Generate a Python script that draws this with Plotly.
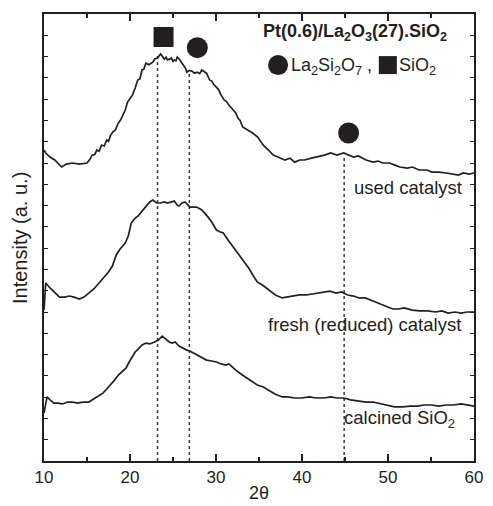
import plotly.graph_objects as go

# ---- data (2theta in degrees, intensity in a.u.) ----
theta_used = [10.0, 10.2, 10.7, 11.25, 12.05, 12.6, 13.3, 14.1, 15.0, 15.3, 15.6, 15.9, 16.15, 16.4,
              16.7, 17.0, 17.3, 17.5, 17.75, 18.0, 18.3, 18.6, 18.9, 19.2, 19.45, 19.7, 20.0, 20.3,
              20.6, 20.9, 21.15, 21.4, 21.6, 21.85, 22.2, 22.65, 22.9, 23.2, 23.55, 23.8, 24.0, 24.2,
              24.35, 24.6, 24.8, 25.0, 25.15, 25.35, 25.5, 25.7, 25.85, 26.2, 26.45, 26.6, 26.9, 27.2,
              27.5, 27.8, 28.1, 28.35, 28.6, 28.9, 29.25, 29.5, 29.7, 30.05, 30.3, 30.6, 30.95, 31.2,
              31.5, 32.0, 32.3, 32.55, 32.8, 33.1, 33.7, 34.25, 34.85, 35.5, 36.1, 36.65, 37.2, 38.0,
              38.6, 39.15, 39.75, 40.3, 41.1, 41.8, 42.6, 43.35, 44.05, 44.85, 45.4, 46.0, 46.55, 47.45,
              48.25, 48.85, 49.4, 50.2, 50.8, 51.35, 52.25, 52.85, 53.6, 54.55, 55.1, 55.9, 56.8, 57.6,
              58.2, 58.75, 59.45, 60.0]
used = [14.61, 14.47, 14.28, 14.14, 13.81, 13.95, 14.00, 13.95, 14.00, 14.15, 14.37, 14.40, 14.61, 14.55,
        14.84, 14.80, 15.08, 15.02, 15.31, 15.45, 15.55, 15.85, 16.02, 16.30, 16.49, 16.85, 17.05, 17.20,
        17.52, 17.90, 17.95, 18.37, 18.40, 18.69, 18.62, 18.74, 18.90, 18.93, 19.12, 18.95, 18.88, 18.97,
        18.84, 18.88, 18.93, 18.78, 18.84, 18.80, 18.98, 18.90, 18.79, 18.60, 18.45, 18.27, 18.35, 18.32,
        18.22, 18.27, 18.20, 18.37, 18.30, 18.22, 17.90, 17.85, 17.71, 17.57, 17.45, 17.19, 16.96, 16.90,
        16.72, 16.49, 16.35, 16.11, 16.00, 15.69, 15.55, 15.41, 15.22, 14.84, 14.61, 14.37, 14.28, 14.14,
        14.23, 14.04, 14.14, 14.14, 14.23, 14.28, 14.37, 14.47, 14.37, 14.47, 14.37, 14.28, 14.33, 14.14,
        14.04, 14.09, 14.00, 14.00, 13.90, 13.81, 13.76, 13.81, 13.67, 13.67, 13.57, 13.57, 13.53, 13.48,
        13.43, 13.53, 13.48, 13.53]

theta_fresh = [10.0, 10.2, 10.7, 11.25, 11.8, 12.4, 12.95, 13.5, 14.1, 14.65, 15.2, 15.8, 16.4, 16.95,
               17.5, 17.95, 18.4, 18.85, 19.45, 19.8, 20.15, 20.6, 20.95, 21.4, 21.85, 22.3, 22.65, 23.1,
               23.55, 24.0, 24.35, 24.8, 25.15, 25.5, 25.7, 26.05, 26.4, 26.75, 26.95, 27.4, 27.75, 28.35,
               28.9, 29.5, 30.05, 30.5, 30.85, 31.4, 32.0, 32.55, 33.1, 33.8, 34.35, 34.8, 35.4, 36.1,
               36.9, 37.7, 38.25, 38.9, 39.7, 40.5, 41.2, 42.0, 42.55, 43.25, 43.95, 44.6, 45.3, 46.0,
               46.65, 47.35, 48.25, 49.15, 49.95, 50.55, 51.2, 51.9, 52.8, 53.7, 54.6, 55.55, 56.25, 57.0,
               57.8, 58.5, 59.2, 60.0]
fresh = [7.09, 8.36, 8.13, 7.89, 7.70, 7.70, 7.75, 7.70, 7.61, 7.70, 7.89, 8.08, 8.36, 8.60,
         8.88, 9.16, 9.68, 9.96, 10.24, 10.57, 11.18, 11.41, 11.51, 11.74, 11.93, 12.17, 12.26, 12.12,
         12.12, 12.17, 12.12, 12.17, 12.21, 12.02, 11.98, 12.12, 12.17, 12.02, 11.93, 11.93, 11.93, 11.79,
         11.55, 11.23, 10.85, 10.76, 10.71, 10.38, 10.05, 9.72, 9.44, 9.07, 8.69, 8.41, 8.27, 8.03,
         7.80, 7.66, 7.70, 7.75, 7.80, 7.80, 7.84, 7.89, 7.94, 7.98, 7.89, 7.94, 7.80, 7.75,
         7.66, 7.66, 7.52, 7.37, 7.23, 7.14, 7.14, 7.19, 7.09, 7.05, 7.05, 7.00, 7.05, 6.95,
         7.00, 6.95, 7.00, 7.00]

theta_calc = [10.0, 10.35, 10.7, 11.15, 11.6, 12.15, 12.75, 13.3, 13.85, 14.55, 15.2, 15.8, 16.4, 16.85,
              17.3, 17.75, 18.2, 18.65, 19.1, 19.55, 19.9, 20.25, 20.6, 20.95, 21.4, 21.85, 22.3, 22.85,
              23.3, 23.75, 24.1, 24.55, 24.9, 25.25, 25.7, 26.05, 26.6, 26.95, 27.4, 27.75, 28.35, 28.9,
              29.5, 30.05, 30.6, 31.15, 31.5, 31.95, 32.3, 32.9, 33.45, 34.25, 34.8, 35.5, 36.1, 36.85,
              37.7, 38.35, 39.15, 39.95, 40.85, 41.65, 42.55, 43.35, 44.05, 44.85, 45.65, 46.55, 47.45, 48.25,
              49.15, 49.95, 50.75, 51.7, 52.6, 53.4, 54.2, 55.1, 55.9, 56.8, 57.6, 58.5, 59.3, 60.0]
calcined = [2.25, 3.01, 2.87, 2.72, 2.72, 2.68, 2.77, 2.77, 2.72, 2.77, 2.77, 2.91, 3.05, 3.19,
            3.38, 3.57, 3.80, 4.04, 4.23, 4.37, 4.65, 4.88, 5.12, 5.26, 5.45, 5.54, 5.50, 5.59,
            5.68, 5.87, 5.73, 5.59, 5.54, 5.59, 5.40, 5.31, 5.21, 5.17, 5.07, 4.98, 4.84, 4.74,
            4.70, 4.65, 4.56, 4.51, 4.56, 4.37, 4.27, 4.09, 3.95, 3.71, 3.57, 3.48, 3.33, 3.15,
            3.01, 3.01, 2.96, 2.96, 3.01, 2.96, 2.96, 3.01, 2.96, 2.96, 2.87, 2.82, 2.77, 2.77,
            2.68, 2.63, 2.54, 2.54, 2.58, 2.58, 2.63, 2.63, 2.58, 2.63, 2.63, 2.68, 2.63, 2.58]

# reference peak positions (dotted lines) and their upper ends
peak_theta = [23.2, 26.9, 44.9]
peak_top = [19.1, 18.3, 14.3]

# phase markers
sio2_theta = [23.9]
sio2_y = [19.92]
la_theta = [27.83, 45.42]
la_y = [19.42, 15.41]

curve_labels = ["used catalyst", "fresh (reduced) catalyst", "calcined SiO<sub>2</sub>"]
label_theta = [52.37, 47.25, 51.35]
label_y = [12.87, 6.39, 1.97]

INK = "#231f20"
FONT = "Liberation Sans, Arial, sans-serif"

fig = go.Figure()

for xp, yt in zip(peak_theta, peak_top):
    fig.add_trace(go.Scatter(x=[xp, xp], y=[0, yt], mode="lines",
                             line=dict(color="#3a3a3a", width=1.5, dash="dot"),
                             hoverinfo="skip", showlegend=False))

for tx, ty in [(theta_used, used), (theta_fresh, fresh), (theta_calc, calcined)]:
    fig.add_trace(go.Scatter(x=tx, y=ty, mode="lines",
                             line=dict(color=INK, width=1.7), showlegend=False))

fig.add_trace(go.Scatter(x=sio2_theta, y=sio2_y, mode="markers",
                         marker=dict(symbol="square", size=20, color=INK, line=dict(width=0)),
                         showlegend=False))
fig.add_trace(go.Scatter(x=la_theta, y=la_y, mode="markers",
                         marker=dict(symbol="circle", size=21, color=INK, line=dict(width=0)),
                         showlegend=False))

# key markers
fig.add_trace(go.Scatter(x=[37.22], y=[18.60], mode="markers",
                         marker=dict(symbol="circle", size=20, color=INK, line=dict(width=0)),
                         showlegend=False))
fig.add_trace(go.Scatter(x=[49.98], y=[18.60], mode="markers",
                         marker=dict(symbol="square", size=18, color=INK, line=dict(width=0)),
                         showlegend=False))

annotations = [
    dict(x=46.2, y=20.15, text="<b>Pt(0.6)/La<sub>2</sub>O<sub>3</sub>(27).SiO<sub>2</sub></b>",
         showarrow=False, xanchor="center", yanchor="middle", font=dict(size=18, color=INK, family=FONT)),
    dict(x=38.47, y=18.55, text="La<sub>2</sub>Si<sub>2</sub>O<sub>7</sub> ,",
         showarrow=False, xanchor="left", yanchor="middle", font=dict(size=18, color=INK, family=FONT)),
    dict(x=51.1, y=18.55, text="SiO<sub>2</sub>",
         showarrow=False, xanchor="left", yanchor="middle", font=dict(size=18, color=INK, family=FONT)),
    dict(x=-0.057, y=0.5, xref="paper", yref="paper", text="Intensity (a. u.)", textangle=-90,
         showarrow=False, xanchor="center", yanchor="middle", font=dict(size=20, color=INK, family=FONT)),
    dict(x=0.5, y=-0.0716, xref="paper", yref="paper", text="2θ",
         showarrow=False, xanchor="center", yanchor="middle", font=dict(size=18, color=INK, family=FONT)),
]
for t, x, y in zip(curve_labels, label_theta, label_y):
    annotations.append(dict(x=x, y=y, text=t, showarrow=False, xanchor="center", yanchor="middle",
                            font=dict(size=18.5, color=INK, family=FONT)))

fig.update_layout(
    width=493, height=506, autosize=False,
    margin=dict(l=44, r=10, t=14, b=45, pad=0),
    paper_bgcolor="white", plot_bgcolor="white",
    font=dict(family=FONT, color=INK),
    annotations=annotations,
    xaxis=dict(range=[10, 60], dtick=10, tick0=10, showgrid=False, zeroline=False,
               showline=True, linecolor=INK, linewidth=1.8, mirror="ticks",
               ticks="inside", ticklen=7, tickwidth=1.5, tickcolor=INK,
               minor=dict(dtick=5, tick0=10, ticks="inside", ticklen=4, tickwidth=1.5, tickcolor=INK),
               tickfont=dict(size=17, color=INK, family=FONT)),
    yaxis=dict(range=[0, 21], dtick=1, tick0=0, showgrid=False, zeroline=False,
               showline=True, linecolor=INK, linewidth=1.8, mirror="ticks",
               ticks="inside", ticklen=4, tickwidth=1.2, tickcolor=INK,
               showticklabels=False),
)

fig.write_html("out.html")
